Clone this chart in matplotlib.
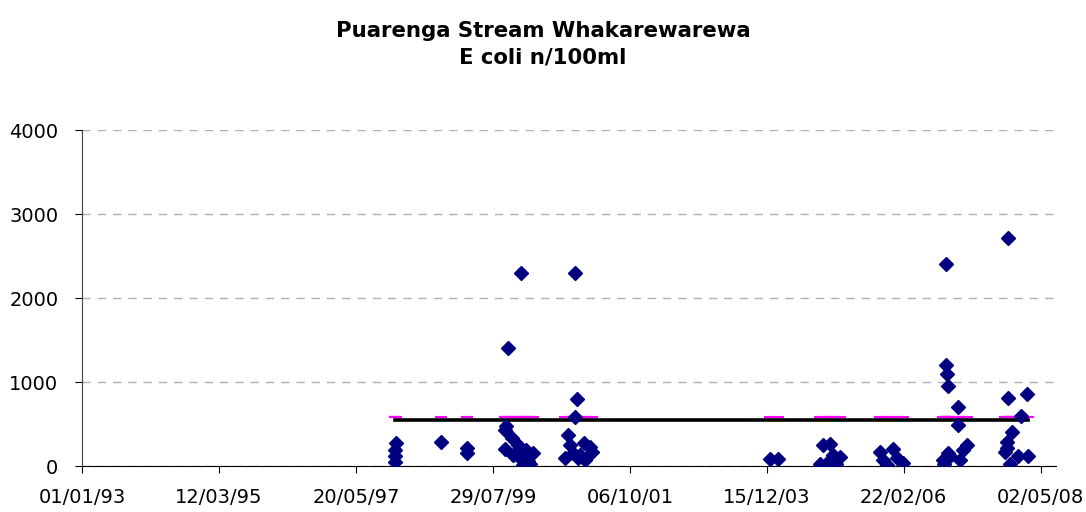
import numpy as np
import matplotlib
matplotlib.use('Agg')
import matplotlib.pyplot as plt
import matplotlib.dates as mdates

# Données (date d'échantillon, E coli n/100ml)
dates = np.array([
    '1998-01-01', '1998-01-03', '1998-01-05', '1998-01-07',
    '1998-09-28', '1999-02-26', '1999-02-28',
    '1999-10-05', '1999-10-10', '1999-10-12', '1999-10-24', '1999-11-17',
    '1999-11-25', '1999-12-22', '2000-01-05', '2000-01-08', '2000-01-20',
    '2000-02-10', '2000-02-18', '2000-03-01', '2000-03-18',
    '2000-09-21', '2000-10-09', '2000-10-20', '2000-11-07', '2000-11-19',
    '2000-11-22', '2000-11-30', '2000-12-10', '2000-12-18', '2001-01-10',
    '2001-01-16', '2001-02-14', '2001-02-26',
    '2004-01-01', '2004-02-17',
    '2004-10-19', '2004-11-06', '2004-12-01', '2004-12-17', '2005-01-03',
    '2005-01-20', '2005-02-13',
    '2005-10-05', '2005-10-22', '2005-11-15', '2005-12-19', '2006-01-12',
    '2006-02-16',
    '2006-10-07', '2006-10-15', '2006-10-25', '2006-10-28', '2006-11-02',
    '2006-11-06', '2006-11-08', '2006-11-17', '2007-01-03', '2007-01-05',
    '2007-01-15', '2007-02-01', '2007-02-24',
    '2007-10-04', '2007-10-16', '2007-10-20', '2007-10-22', '2007-10-25',
    '2007-11-03', '2007-11-14', '2007-12-19', '2008-01-06', '2008-02-10',
    '2008-02-16',
], dtype='datetime64[D]')

ecoli = np.array([
    50, 120, 190, 280,
    290, 220, 160,
    430, 200, 480, 1400, 330,
    130, 250, 95, 2300, 10,
    190, 60, 30, 155,
    100, 370, 250, 150, 2300,
    580, 800, 100, 130, 270,
    70, 230, 170,
    80, 80,
    20, 250, 40, 260, 130,
    20, 110,
    170, 70, 10, 200, 100,
    40,
    70, 30, 2400, 1200, 1100,
    950, 150, 120, 700, 490,
    70, 190, 250,
    170, 210, 290, 2720, 810,
    20, 400, 120, 600, 860,
    120,
])

guideline = 550  # valeur guide
x_start = np.datetime64('1993-01-01')
x_end = np.datetime64('2008-07-28')
tick_step = 800  # jours entre graduations
y_ticks = [0, 1000, 2000, 3000, 4000]

fig = plt.figure(figsize=(10.86, 5.12), dpi=100)
ax = fig.add_axes([0.0755, 0.0898, 0.8965, 0.656])

# guide magenta à chaque date, puis ligne noire
ax.plot(dates, np.full(len(dates), guideline + 30), linestyle='none',
        marker='_', markersize=9, markeredgewidth=1.5, color='#ff00ff', zorder=2)
ax.plot([dates.min(), dates.max()], [guideline, guideline],
        color='black', linewidth=2.6, zorder=3)
ax.plot(dates, ecoli, linestyle='none', marker='D', markersize=7,
        color='#000080', markeredgecolor='#000080', zorder=4)

ticks = x_start + np.arange(0, 8) * tick_step
ax.set_xticks(ticks)
ax.xaxis.set_major_formatter(mdates.DateFormatter('%d/%m/%y'))
ax.set_xlim(x_start, x_end)
ax.set_ylim(0, 4000)
ax.set_yticks(y_ticks)

ax.grid(axis='y', linestyle=(0, (6, 5)), color='#b0b0b0', linewidth=1)
ax.set_axisbelow(True)
for s in ['top', 'right']:
    ax.spines[s].set_visible(False)
ax.spines['left'].set_color('#404040')
ax.spines['bottom'].set_color('black')
ax.tick_params(axis='both', direction='out', length=5, labelsize=14,
               colors='black')
for lab in ax.get_xticklabels() + ax.get_yticklabels():
    lab.set_family('DejaVu Sans')
ax.tick_params(axis='x', pad=11)
ax.tick_params(axis='y', pad=12)

fig.text(0.5, 0.913, 'Puarenga Stream Whakarewarewa\nE coli n/100ml',
         ha='center', va='center', fontsize=15.3, fontweight='bold',
         family='DejaVu Sans', linespacing=1.4)

fig.savefig('out.png', dpi=100)
